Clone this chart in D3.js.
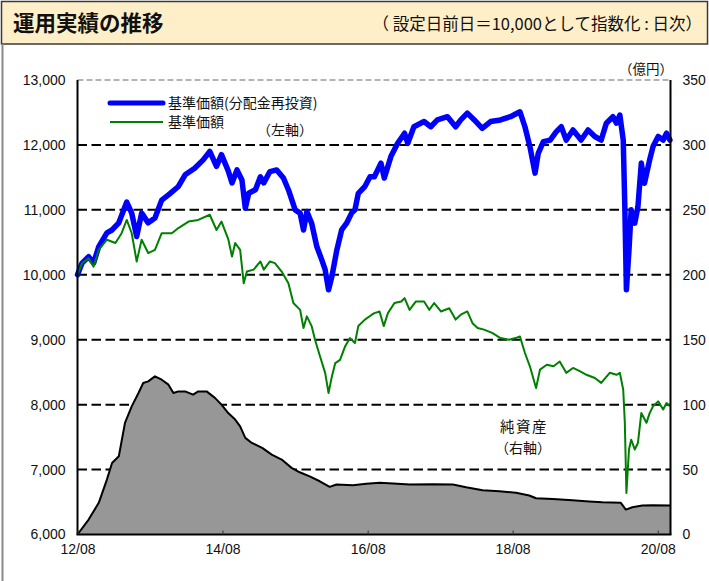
<!DOCTYPE html>
<html>
<head>
<meta charset="utf-8">
<script src="https://cdn.jsdelivr.net/npm/d3@7"></script>
<style>
  html, body { margin: 0; padding: 0; background: #fff; }
  svg { display: block; }
  text { font-family: "Noto Sans CJK JP", "Noto Sans", sans-serif; fill: #111; }
  .num text, text.num { font-family: "Liberation Sans", Arial, sans-serif; }
</style>
</head>
<body>
<svg id="chart" width="709" height="581"></svg>
<script>
// 基準価額（分配金再投資）: 設定日前日 = 10,000
const navReinvested = [
  ["2012-08-01",10000],["2012-08-24",10180],["2012-09-26",10280],["2012-10-21",10180],
  ["2012-11-16",10435],["2012-12-27",10645],["2013-01-22",10690],["2013-02-25",10800],
  ["2013-04-06",11120],["2013-05-01",10950],["2013-05-26",10590],["2013-06-20",10950],
  ["2013-07-23",10800],["2013-08-26",10875],["2013-09-29",11150],["2013-11-02",11230],
  ["2013-12-22",11360],["2014-01-25",11540],["2014-03-14",11640],["2014-04-26",11770],
  ["2014-05-29",11900],["2014-07-02",11670],["2014-07-27",11850],["2014-08-30",11600],
  ["2014-09-18",11415],["2014-10-13",11615],["2014-11-07",11460],["2014-11-24",11025],
  ["2014-12-11",11255],["2015-01-14",11310],["2015-02-08",11510],["2015-02-25",11415],
  ["2015-03-28",11590],["2015-05-01",11615],["2015-06-04",11490],["2015-06-29",11310],
  ["2015-08-02",11000],["2015-08-27",10950],["2015-09-13",10690],["2015-09-30",10975],
  ["2015-10-24",10795],["2015-11-19",10435],["2015-12-14",10230],["2015-12-31",10080],
  ["2016-01-17",9770],["2016-02-03",9975],["2016-02-28",10385],["2016-03-23",10690],
  ["2016-04-17",10795],["2016-05-12",10950],["2016-05-29",11000],["2016-06-15",11255],
  ["2016-07-18",11360],["2016-08-13",11510],["2016-09-04",11510],["2016-10-07",11720],
  ["2016-10-24",11490],["2016-11-26",11820],["2016-12-30",12025],["2017-02-03",12180],
  ["2017-02-19",12025],["2017-03-22",12280],["2017-05-12",12360],["2017-06-15",12280],
  ["2017-07-18",12385],["2017-09-07",12435],["2017-10-18",12280],["2017-11-13",12385],
  ["2017-12-16",12490],["2018-01-20",12385],["2018-03-01",12255],["2018-04-12",12360],
  ["2018-06-01",12385],["2018-07-21",12435],["2018-09-07",12510],["2018-10-02",12280],
  ["2018-10-27",11975],["2018-11-22",11565],["2018-12-08",11870],["2019-01-03",12050],
  ["2019-02-06",12075],["2019-03-09",12205],["2019-04-03",12280],["2019-04-28",12075],
  ["2019-06-01",12230],["2019-07-12",12075],["2019-08-16",12230],["2019-09-19",12130],
  ["2019-10-21",12075],["2019-11-16",12335],["2019-12-19",12435],["2020-01-06",12335],
  ["2020-01-23",12460],["2020-02-09",12075],["2020-02-17",11050],["2020-02-25",9770],
  ["2020-03-09",10385],["2020-03-20",11000],["2020-04-07",10795],["2020-04-23",11050],
  ["2020-05-10",11720],["2020-05-26",11410],["2020-06-21",11770],["2020-07-08",11975],
  ["2020-08-03",12130],["2020-08-28",12075],["2020-09-14",12180],["2020-10-01",12075]
];

// 基準価額
const nav = [
  ["2012-08-01",10000],["2012-08-24",10180],["2012-09-26",10255],["2012-10-21",10125],
  ["2012-11-16",10385],["2012-12-27",10540],["2013-02-08",10490],["2013-03-11",10640],
  ["2013-04-06",10845],["2013-05-01",10640],["2013-05-26",10205],["2013-06-20",10540],
  ["2013-07-23",10335],["2013-08-26",10385],["2013-09-29",10640],["2013-11-19",10640],
  ["2013-12-22",10720],["2014-02-11",10820],["2014-04-01",10845],["2014-05-29",10925],
  ["2014-07-02",10690],["2014-07-27",10820],["2014-08-30",10550],["2014-09-18",10280],
  ["2014-10-04",10490],["2014-10-29",10385],["2014-11-16",9870],["2014-12-02",10050],
  ["2015-01-05",10080],["2015-02-08",10205],["2015-02-25",10080],["2015-03-28",10205],
  ["2015-04-22",10180],["2015-05-26",10050],["2015-06-29",9870],["2015-07-24",9565],
  ["2015-08-27",9460],["2015-09-13",9180],["2015-09-30",9360],["2015-10-24",9210],
  ["2015-11-10",9000],["2015-12-05",8745],["2015-12-31",8490],["2016-01-17",8180],
  ["2016-02-03",8435],["2016-02-20",8640],["2016-03-15",8690],["2016-04-09",8895],
  ["2016-05-04",9025],["2016-05-29",8950],["2016-06-15",9210],["2016-07-18",9310],
  ["2016-08-22",9385],["2016-09-04",9410],["2016-09-30",9435],["2016-10-21",9210],
  ["2016-11-11",9410],["2016-12-14",9565],["2017-01-17",9590],["2017-02-03",9640],
  ["2017-02-28",9460],["2017-04-01",9590],["2017-05-12",9590],["2017-06-07",9460],
  ["2017-07-02",9565],["2017-08-05",9435],["2017-09-16",9485],["2017-10-18",9310],
  ["2017-11-13",9385],["2017-12-16",9435],["2018-01-11",9255],["2018-02-06",9180],
  ["2018-03-10",9155],["2018-04-20",9105],["2018-06-01",9025],["2018-07-14",9000],
  ["2018-08-15",9025],["2018-09-07",9050],["2018-10-02",8795],["2018-10-27",8590],
  ["2018-11-27",8255],["2018-12-17",8540],["2019-01-20",8615],["2019-02-23",8590],
  ["2019-03-26",8665],["2019-04-28",8490],["2019-06-01",8565],["2019-07-05",8515],
  ["2019-08-08",8460],["2019-09-19",8410],["2019-10-21",8335],["2019-12-03",8490],
  ["2020-01-06",8460],["2020-01-23",8490],["2020-02-09",8230],["2020-02-17",7720],
  ["2020-02-25",6640],["2020-03-09",7310],["2020-03-20",7460],["2020-04-07",7310],
  ["2020-04-23",7410],["2020-05-10",7870],["2020-06-05",7720],["2020-06-21",7870],
  ["2020-07-08",7975],["2020-08-03",8050],["2020-08-28",7925],["2020-09-14",8025],
  ["2020-10-01",7975]
];

// 純資産（億円）
const netAssets = [
  ["2012-08-01",0],["2012-09-26",11.5],["2012-11-16",24.4],["2012-12-27",42.3],
  ["2013-01-22",55.1],["2013-02-25",60.2],["2013-03-28",85.9],["2013-05-01",98.7],
  ["2013-06-04",109],["2013-06-28",116.7],["2013-07-23",117.9],["2013-08-26",121.8],
  ["2013-09-29",119.2],["2013-11-02",115.4],["2013-11-27",109],["2013-12-22",110.2],
  ["2014-01-25",110.2],["2014-03-06",107.7],["2014-04-01",110.2],["2014-05-13",110.2],
  ["2014-06-24",105.2],["2014-07-27",100],["2014-08-30",93.5],["2014-10-04",88.5],
  ["2014-10-29",83.3],["2014-11-24",74.4],["2014-12-27",70.5],["2015-02-17",66.7],
  ["2015-04-06",61.5],["2015-05-26",57.7],["2015-07-15",51.3],["2015-08-25",47.9],
  ["2015-10-14",44.8],["2015-12-04",41],["2016-01-23",36.7],["2016-02-26",38.5],
  ["2016-05-19",37.9],["2016-07-25",39],["2016-10-01",39.8],["2016-12-07",39.2],
  ["2017-03-01",38.5],["2017-06-25",38.7],["2017-10-04",38.5],["2017-12-10",36.4],
  ["2018-03-03",34.1],["2018-05-26",33.3],["2018-08-18",32.1],["2018-10-24",30],
  ["2018-11-27",27.9],["2019-02-19",27.4],["2019-05-29",26.4],["2019-08-21",25.4],
  ["2019-10-27",24.8],["2020-01-28",24.4],["2020-02-22",19.2],["2020-03-26",21],
  ["2020-05-15",22.3],["2020-07-05",22.5],["2020-10-04",22.3]
];

const leftTicks = [6000, 7000, 8000, 9000, 10000, 11000, 12000, 13000];
const rightTicks = [0, 50, 100, 150, 200, 250, 300, 350];
const xTickDates = ["2012-08-01", "2014-08-01", "2016-08-01", "2018-08-01", "2020-08-01"];
const xTickLabels = ["12/08", "14/08", "16/08", "18/08", "20/08"];
const xDomain = ["2012-08-01", "2020-10-04"];

const parse = d3.timeParse("%Y-%m-%d");
const svg = d3.select("#chart");

const plot = { left: 77.5, right: 670.5, top: 80, bottom: 534.5 };

const x = d3.scaleTime().domain(xDomain.map(parse)).range([plot.left, plot.right]);
const yL = d3.scaleLinear().domain([6000, 13000]).range([plot.bottom, plot.top]);
const yR = d3.scaleLinear().domain([0, 350]).range([plot.bottom, plot.top]);

// ---- header band ----
svg.append("rect")
  .attr("x", 1.5).attr("y", 1.5).attr("width", 706).attr("height", 42.5)
  .attr("fill", "#FEEFC9").attr("stroke", "#3a3a3a").attr("stroke-width", 1.5);
svg.append("line")
  .attr("x1", 2.5).attr("x2", 2.5).attr("y1", 44).attr("y2", 581)
  .attr("stroke", "#8a8a8a").attr("stroke-width", 2);
svg.append("text")
  .attr("x", 13).attr("y", 31)
  .attr("font-size", 21.5).attr("font-weight", "bold")
  .text("運用実績の推移");
svg.append("text")
  .attr("x", 702).attr("y", 29.5).attr("text-anchor", "end")
  .attr("font-size", 16.5)
  .text("（ 設定日前日＝10,000として指数化 : 日次）");

// ---- grid ----
svg.append("g")
  .selectAll("line")
  .data(leftTicks.filter(v => v > 6000 && v < 13000))
  .join("line")
  .attr("x1", plot.left).attr("x2", plot.right)
  .attr("y1", d => yL(d)).attr("y2", d => yL(d))
  .attr("stroke", "#000").attr("stroke-width", 2)
  .attr("stroke-dasharray", "9.5,4.5");
svg.append("line")
  .attr("x1", plot.left).attr("x2", plot.right)
  .attr("y1", yL(13000)).attr("y2", yL(13000))
  .attr("stroke", "#9a9a9a").attr("stroke-width", 1.5)
  .attr("stroke-dasharray", "6,3");

// ---- 純資産 area ----
const assets = netAssets.map(([d, v]) => ({ date: parse(d), value: v }));
svg.append("path")
  .datum(assets)
  .attr("fill", "#979797")
  .attr("d", d3.area().x(d => x(d.date)).y0(yR(0)).y1(d => yR(d.value)));
svg.append("path")
  .datum(assets)
  .attr("fill", "none").attr("stroke", "#000").attr("stroke-width", 2)
  .attr("stroke-linejoin", "round")
  .attr("d", d3.line().x(d => x(d.date)).y(d => yR(d.value)));

// ---- 基準価額 lines ----
const lineL = d3.line().x(d => x(d.date)).y(d => yL(d.value));
const reinv = navReinvested.map(([d, v]) => ({ date: parse(d), value: v }));
const navPts = nav.map(([d, v]) => ({ date: parse(d), value: v }));

svg.append("path")
  .datum(reinv)
  .attr("fill", "none").attr("stroke", "#0000FF").attr("stroke-width", 5.5)
  .attr("stroke-linejoin", "round").attr("stroke-linecap", "round")
  .attr("d", lineL);
svg.append("path")
  .datum(navPts)
  .attr("fill", "none").attr("stroke", "#008000").attr("stroke-width", 2)
  .attr("stroke-linejoin", "round")
  .attr("d", lineL);

// ---- frame ----
const frame = svg.append("g").attr("stroke", "#000").attr("stroke-width", 2);
frame.append("line").attr("x1", plot.left).attr("x2", plot.left).attr("y1", plot.top).attr("y2", plot.bottom);
frame.append("line").attr("x1", plot.right).attr("x2", plot.right).attr("y1", plot.top).attr("y2", plot.bottom);
frame.append("line").attr("x1", plot.left - 1).attr("x2", plot.right + 1).attr("y1", plot.bottom).attr("y2", plot.bottom);

// ---- axes ----
const axL = svg.append("g").attr("class", "num")
  .attr("transform", `translate(${plot.left},0)`)
  .call(d3.axisLeft(yL).tickValues(leftTicks).tickSize(0).tickPadding(12).tickFormat(d3.format(",")));
axL.select(".domain").remove();
axL.selectAll("text").attr("font-size", 14).attr("fill", "#111");

const axR = svg.append("g").attr("class", "num")
  .attr("transform", `translate(${plot.right},0)`)
  .call(d3.axisRight(yR).tickValues(rightTicks).tickSize(0).tickPadding(12));
axR.select(".domain").remove();
axR.selectAll("text").attr("font-size", 14).attr("fill", "#111");

const tickDates = xTickDates.map(parse);
const axB = svg.append("g").attr("class", "num")
  .attr("transform", `translate(0,${plot.bottom})`)
  .call(d3.axisBottom(x).tickValues(tickDates).tickSizeInner(-4).tickSizeOuter(0).tickPadding(10)
    .tickFormat((d, i) => xTickLabels[i]));
axB.select(".domain").remove();
axB.selectAll(".tick line").attr("stroke", "#333").attr("stroke-width", 1);
axB.selectAll("text").attr("font-size", 14).attr("fill", "#111");

// 単位
svg.append("text")
  .attr("x", 673).attr("y", 74).attr("text-anchor", "end")
  .attr("font-size", 13.5)
  .text("（億円）");

// ---- legend ----
const legend = svg.append("g");
legend.append("line")
  .attr("x1", 110).attr("x2", 163).attr("y1", 103).attr("y2", 103)
  .attr("stroke", "#0000FF").attr("stroke-width", 5).attr("stroke-linecap", "round");
legend.append("text")
  .attr("x", 168).attr("y", 103).attr("dy", "0.35em").attr("font-size", 14)
  .text("基準価額(分配金再投資)");
legend.append("line")
  .attr("x1", 110).attr("x2", 163).attr("y1", 122).attr("y2", 122)
  .attr("stroke", "#008000").attr("stroke-width", 2);
legend.append("text")
  .attr("x", 168).attr("y", 122).attr("dy", "0.35em").attr("font-size", 14)
  .text("基準価額");
legend.append("text")
  .attr("x", 257).attr("y", 130).attr("dy", "0.35em").attr("font-size", 14)
  .text("（左軸）");

// 純資産 annotation
svg.append("text")
  .attr("x", 500).attr("y", 427).attr("dy", "0.35em").attr("font-size", 14.5)
  .attr("letter-spacing", 1.5)
  .text("純資産");
svg.append("text")
  .attr("x", 495).attr("y", 448).attr("dy", "0.35em").attr("font-size", 14)
  .text("（右軸）");
</script>
</body>
</html>
